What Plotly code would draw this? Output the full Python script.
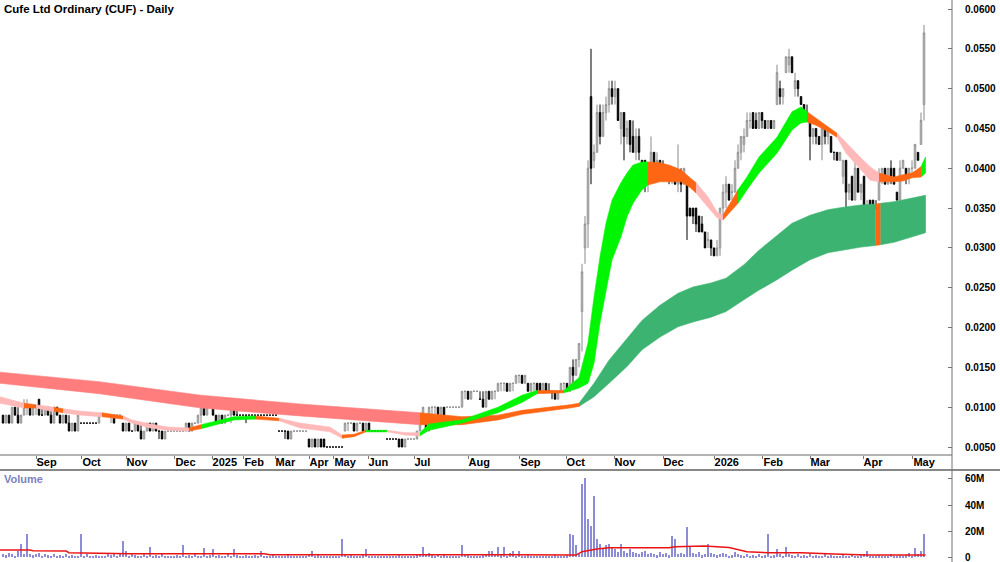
import plotly.graph_objects as go

PRICE_UNIT = 0.001  # prices stored in thousandths of a dollar

# ---------------- daily bars (trading days with trades) ----------------
open_mils = [
    9, 8, 9, 8, 10, 9, 8, 9, 10, 10,
    9, 10, 11, 9, 9, 10, 9, 8, 10, 9,
    8, 9, 8, 7, 8, 7, 8, 8, 8, 8,
    8, 8, 8, 9, 9, 9, 9, 9, 9, 9,
    8, 7, 8, 7, 7, 8, 7, 6, 7, 8,
    7, 8, 7, 7, 6, 7, 7, 7, 7, 7,
    7, 7, 8, 7, 8, 8, 9, 10, 9, 10,
    10, 9, 8, 9, 8, 9, 9, 11, 9, 9,
    9, 9, 9, 9, 9, 9, 9, 9, 9, 9,
    9, 9, 7, 7, 7, 7, 6, 7, 7, 7,
    7, 7, 6, 5, 6, 5, 6, 6, 5, 5,
    5, 5, 5, 5, 7, 8, 8, 8, 7, 8,
    8, 7, 8, 7, 7, 7, 7, 7, 6, 6,
    6, 6, 6, 6, 5, 6, 6, 6, 6, 7,
    9, 9, 7, 10, 10, 10, 8, 10, 10, 10,
    10, 10, 10, 10, 12, 12, 11, 12, 12, 11,
    11, 10, 12, 11, 12, 12, 13, 13, 13, 12,
    13, 13, 14, 14, 13, 13, 12, 13, 13, 13,
    12, 13, 12, 12, 12, 11, 12, 13, 13, 12,
    15, 14, 16, 22, 30, 33, 49, 41, 42, 47,
    44, 47, 48, 50, 49, 50, 45, 47, 44, 46,
    44, 42, 44, 41, 41, 38, 40, 42, 40, 41,
    40, 40, 39, 39, 40, 38, 39, 38, 38, 35,
    35, 35, 34, 33, 32, 31, 31, 30, 29, 30,
    35, 37, 38, 37, 37, 40, 42, 43, 44, 46,
    47, 46, 45, 47, 46, 45, 46, 45, 48, 50,
    49, 52, 53, 54, 50, 51, 49, 48, 47, 46,
    44, 45, 44, 43, 45, 44, 44, 42, 42, 41,
    39, 41, 37, 39, 36, 40, 37, 39, 35, 36,
    36, 35, 36, 39, 40, 38, 40, 40, 37, 36,
    40, 40, 39, 40, 40, 42, 43, 48,
]
high_mils = [
    9, 9, 9, 10, 10, 10, 9, 11, 11, 10,
    10, 10, 11, 10, 10, 10, 10, 10, 10, 9,
    9, 9, 9, 8, 8, 9, 8, 8, 8, 8,
    8, 8, 9, 9, 9, 9, 9, 9, 9, 9,
    8, 8, 8, 7, 8, 8, 8, 7, 8, 8,
    8, 8, 7, 7, 7, 7, 7, 7, 7, 7,
    7, 8, 8, 8, 8, 9, 10, 10, 10, 10,
    10, 9, 9, 9, 9, 9, 11, 11, 10, 9,
    9, 9, 9, 9, 9, 9, 9, 9, 9, 9,
    9, 9, 7, 7, 7, 7, 7, 7, 7, 7,
    7, 7, 6, 6, 6, 6, 6, 6, 5, 5,
    5, 5, 5, 5, 8, 8, 8, 8, 8, 8,
    8, 8, 8, 7, 7, 7, 7, 7, 6, 6,
    6, 6, 6, 6, 6, 6, 6, 6, 7, 9,
    10, 9, 10, 10, 10, 10, 10, 10, 10, 10,
    10, 10, 10, 12, 12, 12, 12, 12, 12, 12,
    12, 12, 12, 12, 12, 13, 13, 13, 13, 13,
    13, 14, 14, 14, 14, 13, 13, 13, 13, 13,
    13, 13, 13, 12, 12, 12, 13, 13, 13, 15,
    16, 16, 18, 28, 34, 41, 55, 43, 48, 48,
    48, 49, 51, 51, 51, 50, 47, 47, 46, 46,
    46, 45, 45, 41, 41, 40, 44, 42, 42, 41,
    41, 40, 40, 40, 40, 43, 40, 40, 38, 35,
    35, 35, 34, 34, 32, 32, 31, 30, 31, 35,
    38, 39, 38, 38, 41, 43, 44, 45, 47, 47,
    47, 47, 47, 47, 46, 46, 46, 46, 53, 51,
    50, 54, 55, 54, 52, 51, 49, 48, 48, 46,
    45, 45, 44, 45, 45, 45, 44, 42, 42, 42,
    41, 41, 38, 39, 41, 40, 38, 39, 36, 36,
    36, 36, 40, 40, 40, 40, 41, 40, 37, 41,
    41, 40, 40, 41, 43, 42, 47, 58,
]
low_mils = [
    8, 8, 8, 8, 9, 8, 8, 9, 9, 9,
    9, 9, 9, 9, 9, 9, 8, 8, 9, 8,
    8, 8, 7, 7, 7, 7, 8, 8, 8, 8,
    8, 8, 8, 9, 9, 9, 8, 8, 9, 9,
    7, 7, 7, 7, 7, 7, 6, 6, 7, 7,
    7, 7, 6, 6, 6, 7, 7, 7, 7, 7,
    7, 7, 7, 7, 8, 8, 8, 9, 9, 10,
    9, 8, 8, 8, 8, 9, 8, 9, 9, 9,
    9, 8, 9, 9, 9, 9, 9, 9, 9, 9,
    9, 9, 7, 7, 6, 6, 6, 7, 7, 7,
    7, 7, 5, 5, 5, 5, 5, 5, 5, 5,
    5, 5, 5, 5, 7, 7, 8, 7, 7, 8,
    7, 7, 7, 7, 7, 7, 7, 7, 6, 6,
    6, 6, 5, 5, 5, 6, 6, 6, 6, 7,
    8, 7, 7, 9, 9, 8, 8, 9, 10, 10,
    10, 10, 10, 10, 11, 11, 11, 12, 12, 11,
    10, 10, 11, 11, 11, 12, 12, 12, 12, 12,
    12, 13, 13, 13, 13, 12, 12, 12, 12, 12,
    12, 12, 12, 11, 11, 11, 12, 12, 12, 12,
    13, 14, 15, 17, 28, 30, 38, 40, 42, 43,
    44, 46, 47, 48, 48, 46, 43, 41, 43, 42,
    42, 41, 41, 39, 37, 37, 39, 39, 39, 39,
    39, 39, 38, 38, 38, 37, 37, 38, 31, 34,
    33, 32, 32, 32, 30, 30, 29, 29, 29, 29,
    34, 35, 36, 36, 37, 40, 41, 42, 44, 45,
    45, 45, 45, 45, 45, 45, 45, 45, 48, 48,
    48, 52, 52, 52, 49, 49, 48, 46, 46, 41,
    43, 43, 43, 41, 43, 43, 42, 41, 41, 41,
    38, 34, 36, 36, 36, 37, 36, 32, 32, 35,
    35, 35, 36, 38, 38, 38, 38, 38, 36, 35,
    40, 38, 38, 39, 40, 41, 43, 46,
]
close_mils = [
    8, 9, 8, 10, 9, 8, 9, 10, 10, 9,
    10, 10, 9, 9, 10, 9, 8, 10, 9, 8,
    9, 8, 7, 8, 7, 9, 8, 8, 8, 8,
    8, 8, 9, 9, 9, 9, 9, 8, 9, 9,
    7, 8, 7, 7, 8, 7, 6, 7, 8, 7,
    8, 7, 7, 6, 7, 7, 7, 7, 7, 7,
    7, 8, 7, 8, 8, 9, 10, 9, 10, 10,
    9, 8, 9, 8, 9, 9, 11, 9, 9, 9,
    9, 9, 9, 9, 9, 9, 9, 9, 9, 9,
    9, 9, 7, 7, 7, 6, 7, 7, 7, 7,
    7, 7, 5, 6, 5, 6, 5, 5, 5, 5,
    5, 5, 5, 5, 8, 8, 8, 7, 8, 8,
    7, 8, 7, 7, 7, 7, 7, 7, 6, 6,
    6, 6, 5, 5, 6, 6, 6, 6, 7, 9,
    10, 7, 10, 10, 10, 8, 10, 9, 10, 10,
    10, 10, 10, 12, 12, 11, 12, 12, 12, 11,
    10, 12, 11, 12, 12, 13, 13, 13, 12, 13,
    13, 14, 14, 13, 14, 12, 13, 13, 12, 12,
    13, 12, 12, 12, 11, 12, 13, 13, 12, 15,
    14, 16, 18, 27, 33, 40, 40, 42, 47, 44,
    47, 48, 50, 49, 50, 46, 47, 44, 45, 43,
    42, 44, 42, 39, 38, 40, 42, 40, 41, 40,
    40, 39, 39, 40, 38, 39, 38, 40, 34, 34,
    34, 33, 32, 32, 30, 31, 30, 29, 30, 35,
    37, 38, 36, 37, 40, 42, 44, 44, 46, 46,
    45, 45, 47, 46, 45, 46, 45, 46, 52, 49,
    50, 54, 54, 52, 51, 50, 48, 47, 46, 44,
    45, 44, 43, 45, 44, 45, 42, 42, 41, 42,
    41, 37, 38, 36, 40, 37, 38, 32, 35, 35,
    35, 35, 39, 40, 38, 40, 39, 38, 36, 40,
    41, 39, 40, 40, 43, 41, 46, 57,
]
volume_m = [
    2, 1.5, 3, 2, 1, 5, 10, 2, 18, 2,
    1.5, 2, 3, 1, 2, 1.5, 1, 2, 1, 1.5,
    1, 2, 1, 1.5, 1, 0.8, 17.5, 1, 2, 1,
    1, 1.5, 0.8, 1, 1, 2, 1.5, 3, 1, 2,
    12, 5, 1, 2, 1.5, 1, 0.8, 2, 1, 8,
    1, 1.5, 1, 2, 1, 1, 0.8, 1, 1.5, 1,
    9, 1, 1.5, 1, 2, 1, 1, 7, 1, 1.5,
    6, 1, 1.5, 1, 1, 2, 1, 6, 1.5, 1,
    1, 1.5, 1, 1, 1.5, 1, 5, 1, 0.8, 1,
    1.5, 1, 1, 0.8, 1, 1.5, 1, 0.8, 1, 1,
    1, 0.8, 2, 5, 1, 1.5, 1, 1, 0.8, 1,
    1, 0.8, 1, 13.5, 2, 1, 1.5, 1, 1, 1,
    1.5, 6, 1, 0.8, 1, 1, 0.8, 1, 1, 0.8,
    1, 0.8, 1.5, 1, 1, 0.8, 1, 1, 1.5, 2,
    8, 2, 3, 1.5, 1, 2, 1, 1.5, 1, 1,
    1, 0.8, 1, 9, 2, 1.5, 1, 1, 0.8, 1,
    1.5, 2, 5, 5, 2, 8, 1.5, 8, 1, 3,
    5, 1, 5, 1, 1, 1.5, 1, 1, 0.8, 1,
    1, 0.8, 1, 1, 1.5, 1, 1, 1, 1.5, 17.5,
    16.7, 9, 3, 56, 61, 29, 24, 47, 14, 10,
    7, 9, 10, 8, 6, 4, 10, 5, 3, 6,
    4, 3, 2, 4, 5, 2, 3, 2, 1.5, 4,
    2, 3, 1.5, 16, 14, 2, 3, 2, 23, 7.5,
    3, 2, 4, 1.5, 2, 10, 3, 2, 1.5, 2,
    3, 2, 1, 1.5, 4, 2, 1.5, 1, 2, 1,
    1.5, 1, 2, 1, 1.5, 18, 1, 1.5, 6, 2,
    1, 7.5, 2, 1.5, 1, 2, 1, 1.5, 1, 2,
    1, 1.5, 1, 1, 2, 1, 1.5, 1, 1, 1,
    1.5, 1, 1, 2, 1, 1, 1.5, 2, 5, 1,
    1, 1, 1.5, 1, 1, 1, 2, 1, 1, 1.5,
    1, 1.5, 3, 1, 7, 2, 5, 18,
]
bar_index = list(range(len(close_mils)))

# ---------------- volume moving average ----------------
vol_ma_idx = [-1, 9, 10, 21, 22, 41, 42, 87, 89, 165, 191, 193, 198, 202, 222,
              224, 234, 242, 248, 255, 266, 277, 288, 307.5]
vol_ma_m = [5.4, 5.4, 4.8, 4.6, 3.3, 3.0, 2.6, 2.6, 1.8, 1.8, 1.5, 4.1, 6.2, 7.2, 7.2,
            8.0, 8.5, 7.4, 4.1, 3.3, 3.3, 2.3, 1.5, 1.5]

# ---------------- short-term moving-average ribbon ----------------
short_idx = [-1, 7, 11, 16, 17, 20, 26, 33, 40, 43, 49, 55, 62, 66, 72, 77, 84, 92, 99, 109,
             113, 117, 121, 128, 134, 139, 142, 153, 165, 173, 178, 187, 189, 192, 195, 197,
             199, 201, 203, 206, 208, 210, 213, 215, 219, 222, 226, 229, 231, 235, 238, 240,
             241, 243, 245, 248, 252, 258, 263, 266, 268, 271, 275, 278, 281, 286, 289, 292,
             297, 300, 303, 306, 307.5]
short_top = [11.3, 10.5, 10.3, 10.0, 10.0, 9.8, 9.5, 9.3, 8.9, 8.4, 7.9, 7.5, 7.4, 7.8, 8.3,
             8.8, 8.9, 8.6, 8.0, 7.5, 6.5, 6.6, 7.1, 7.1, 6.8, 6.8, 7.9, 8.4, 10.0, 11.5,
             12.1, 12.1, 12.8, 13.7, 18.1, 23.8, 28.9, 33.1, 36.0, 38.2, 39.4, 40.4, 40.8,
             40.8, 40.7, 40.4, 39.8, 38.8, 38.2, 36.4, 34.5, 34.1, 34.8, 36.0, 37.3, 38.9,
             41.4, 43.9, 47.1, 47.7, 47.1, 46.3, 45.2, 44.4, 43.2, 41.3, 40.2, 39.4, 38.9,
             39.2, 39.4, 40.2, 41.4]
short_bot = [10.5, 9.9, 9.9, 9.5, 9.5, 9.3, 9.0, 8.8, 8.5, 8.0, 7.4, 7.1, 7.0, 7.3, 7.9,
             8.4, 8.5, 8.3, 7.4, 6.9, 6.1, 6.3, 6.9, 6.9, 6.5, 6.4, 7.1, 8.0, 9.3, 10.6,
             11.7, 11.8, 12.0, 12.4, 13.0, 15.5, 20.6, 24.7, 28.5, 31.4, 33.9, 35.6, 37.3,
             37.9, 38.3, 38.3, 38.3, 37.6, 36.9, 35.1, 33.8, 33.5, 33.9, 34.8, 35.6, 37.3,
             39.4, 41.9, 44.8, 45.7, 45.8, 45.4, 44.6, 43.9, 41.9, 39.8, 38.5, 38.3, 38.3,
             38.4, 38.8, 38.9, 39.4]
short_state = list("POPPOPPOPP" "PPOGGGOPPP" "OOGPPGGGGG" "OGGGGGGGGG" "GGGOOOOOPP"
                   "POOOGGGGGG" "OOOPPPPOOO" "OGG")

# ---------------- long-term moving-average ribbon ----------------
long_idx = [-1, 32, 66, 99, 139, 153, 165, 173, 189, 192, 197, 202, 208, 213, 219, 225, 230,
            236, 241, 247, 252, 258, 263, 269, 275, 280, 286, 290.8, 292.5, 297, 307.5]
long_top = [14.4, 13.2, 11.5, 10.4, 9.3, 8.8, 9.0, 9.6, 10.3, 10.5, 13.0, 15.9, 18.7, 20.9,
            22.8, 24.3, 25.1, 25.6, 26.2, 27.9, 29.7, 31.6, 33.1, 34.1, 34.8, 35.1, 35.4,
            35.5, 35.6, 35.8, 36.6]
long_bot = [13.0, 11.7, 9.9, 8.9, 7.8, 7.8, 8.4, 9.1, 9.9, 10.1, 11.3, 13.0, 15.1, 17.2,
            18.8, 20.1, 20.7, 21.3, 22.0, 23.5, 24.7, 26.0, 27.2, 28.5, 29.4, 29.7, 30.1,
            30.3, 30.4, 30.7, 31.9]
long_state = list("RRRR" "OOOOO" "DDDDDDDDD" "DDDDDDDDD" "O" "DDD")

# ---------------- axis labels ----------------
month_idx = [11, 26.3, 41, 57.3, 69.7, 80.3, 90.7, 102, 110.3, 121.7, 137, 155, 172.3,
             187.7, 203.7, 220, 237, 253.3, 269, 286.7, 303.3]
month_labels = ["Sep", "Oct", "Nov", "Dec", "2025", "Feb", "Mar", "Apr", "May", "Jun", "Jul",
                "Aug", "Sep", "Oct", "Nov", "Dec", "2026", "Feb", "Mar", "Apr", "May"]
price_ticks = [0.005, 0.010, 0.015, 0.020, 0.025, 0.030, 0.035, 0.040, 0.045, 0.050, 0.055, 0.060]
vol_ticks = [0, 20, 40, 60]
vol_tick_text = ["0", "20M", "40M", "60M"]

COLORS = {
    "P": "rgb(255,185,185)",
    "O": "rgb(255,102,20)",
    "G": "rgb(0,245,0)",
    "R": "rgb(255,125,125)",
    "D": "rgb(60,179,113)",
}

fig = go.Figure()


def add_ribbon(idx, top, bot, state):
    n = len(idx)
    k = 0
    while k < n - 1:
        c = state[k]
        j = k
        while j < n - 1 and state[j] == c:
            j += 1
        xs = idx[k:j + 1] + idx[k:j + 1][::-1]
        ys = [v * PRICE_UNIT for v in (top[k:j + 1] + bot[k:j + 1][::-1])]
        fig.add_trace(go.Scatter(
            x=xs, y=ys, fill="toself", fillcolor=COLORS[c], mode="lines",
            line=dict(width=0.6, color=COLORS[c]), hoverinfo="skip",
            showlegend=False, xaxis="x", yaxis="y"))
        k = j


add_ribbon(long_idx, long_top, long_bot, long_state)
add_ribbon(short_idx, short_top, short_bot, short_state)

fig.add_trace(go.Candlestick(
    x=bar_index,
    open=[v * PRICE_UNIT for v in open_mils],
    high=[v * PRICE_UNIT for v in high_mils],
    low=[v * PRICE_UNIT for v in low_mils],
    close=[v * PRICE_UNIT for v in close_mils],
    increasing=dict(line=dict(color="#8a8a8a", width=1), fillcolor="white"),
    decreasing=dict(line=dict(color="black", width=1), fillcolor="black"),
    whiskerwidth=0, showlegend=False, xaxis="x", yaxis="y"))

fig.add_trace(go.Bar(
    x=bar_index, y=volume_m, width=0.38, marker=dict(color="rgb(140,140,215)", line=dict(width=0)),
    showlegend=False, xaxis="x2", yaxis="y2"))
fig.add_trace(go.Scatter(
    x=vol_ma_idx, y=vol_ma_m, mode="lines", line=dict(color="rgb(235,20,20)", width=1.5),
    showlegend=False, xaxis="x2", yaxis="y2"))

AX_FONT = dict(family="Liberation Sans, Arial, sans-serif", size=10, color="black", weight="bold")
X_FONT = dict(family="Liberation Sans, Arial, sans-serif", size=11, color="black", weight="bold")
PRICE_BOTTOM = 1 - 455 / 562
VOL_TOP = 92 / 562
X_RIGHT = 0.952

fig.update_layout(
    width=1000, height=562, margin=dict(l=0, r=0, t=0, b=0),
    paper_bgcolor="white", plot_bgcolor="white", showlegend=False,
    hovermode=False, bargap=0,
    xaxis=dict(domain=[0, X_RIGHT], range=[-1, 316.33], anchor="y",
               tickvals=month_idx, ticktext=month_labels, ticks="outside", ticklen=3,
               tickcolor="#777", ticklabelposition="outside right", tickfont=X_FONT,
               tickangle=0, ticklabelstandoff=-3,
               showgrid=False, zeroline=False, showline=False,
               rangeslider=dict(visible=False)),
    yaxis=dict(domain=[PRICE_BOTTOM, 1], range=[0.003995, 0.06113], side="right",
               anchor="x", tickvals=price_ticks, tickformat=".4f", ticks="inside",
               ticklen=4, tickcolor="#777", tickfont=AX_FONT, ticklabelstandoff=12,
               ticklabeloverflow="allow",
               showgrid=False, zeroline=False, showline=False),
    xaxis2=dict(domain=[0, X_RIGHT], range=[-1, 316.33], anchor="y2", matches="x",
                showticklabels=False, ticks="", showgrid=False, zeroline=False,
                showline=False),
    yaxis2=dict(domain=[0, VOL_TOP], range=[-3.8, 66.9], side="right", anchor="x2",
                tickvals=vol_ticks, ticktext=vol_tick_text, ticks="inside", ticklen=4,
                tickcolor="#777", tickfont=AX_FONT, ticklabelstandoff=12,
                ticklabeloverflow="allow",
                showgrid=False, zeroline=False, showline=False),
    shapes=[
        dict(type="line", xref="paper", yref="paper", x0=0, x1=X_RIGHT,
             y0=PRICE_BOTTOM, y1=PRICE_BOTTOM, line=dict(color="#9a9a9a", width=1.5)),
        dict(type="line", xref="paper", yref="paper", x0=0, x1=1,
             y0=VOL_TOP, y1=VOL_TOP, line=dict(color="#606060", width=1.5)),
        dict(type="line", xref="paper", yref="paper", x0=X_RIGHT, x1=X_RIGHT,
             y0=0, y1=1, line=dict(color="#707070", width=1)),
    ],
    annotations=[
        dict(text="Cufe Ltd Ordinary (CUF) - Daily", xref="paper", yref="paper",
             x=0.002, y=1, xanchor="left", yanchor="top", yshift=-1, showarrow=False,
             font=dict(family="Liberation Sans, Arial, sans-serif", size=11.5,
                       color="black", weight="bold")),
        dict(text="Volume", xref="paper", yref="paper", x=0.002, y=VOL_TOP,
             xanchor="left", yanchor="top", yshift=-1, showarrow=False,
             font=dict(family="Liberation Sans, Arial, sans-serif", size=11,
                       color="rgb(128,128,190)", weight="bold")),
    ],
)

fig.write_html("out.html")
